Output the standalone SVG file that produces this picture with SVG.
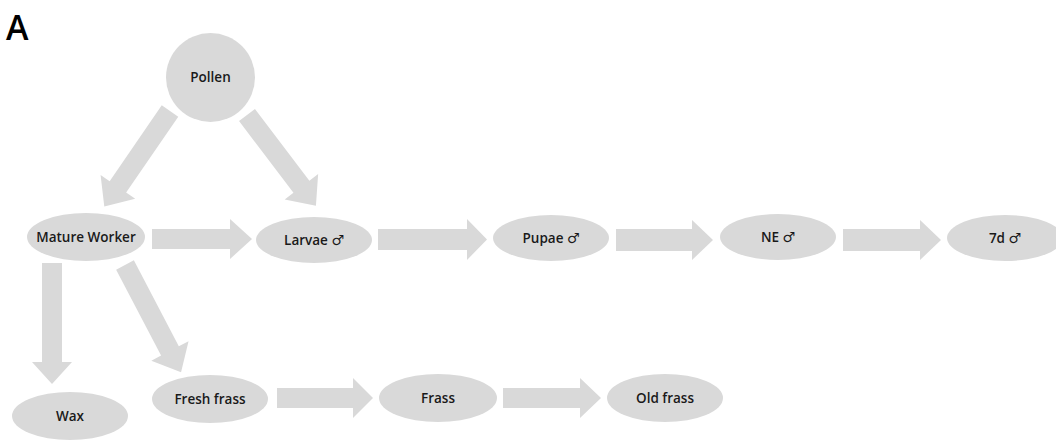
<svg xmlns="http://www.w3.org/2000/svg" width="1056" height="440" viewBox="0 0 1056 440">
<style>
.n{fill:#d9d9d9}
.a{fill:#d9d9d9}
.t{font-family:"Open Sans","Noto Sans",sans-serif;font-weight:600;font-size:13.5px;fill:#1a1a1a;text-anchor:middle}
.m{font-family:"DejaVu Sans",sans-serif;font-weight:normal;font-size:14px}
.lbl{font-family:"Open Sans","Noto Sans",sans-serif;font-weight:600;font-size:34px;fill:#000}
</style>
<rect width="1056" height="440" fill="#fff"/>
<text class="lbl" x="6" y="40">A</text>
<g id="connectors">
<path class="a" transform="translate(170,111) rotate(124.5)" d="M0,-10 L92,-10 L92,-21 L116,0 L92,21 L92,10 L0,10 Z"/>
<path class="a" transform="translate(247,115) rotate(52.8)" d="M0,-10 L90,-10 L90,-21 L114,0 L90,21 L90,10 L0,10 Z"/>
<path class="a" transform="translate(52,263) rotate(90)" d="M0,-10 L99,-10 L99,-20 L121,0 L99,20 L99,10 L0,10 Z"/>
<path class="a" transform="translate(125,265) rotate(62.4)" d="M0,-10 L97,-10 L97,-21 L121,0 L97,21 L97,10 L0,10 Z"/>
<path class="a" d="M152,229 L230,229 L230,219 L252,239 L230,259 L230,249 L152,249 Z"/>
<path class="a" d="M378,229 L467,229 L467,219 L487,239.5 L467,260 L467,250 L378,250 Z"/>
<path class="a" d="M616,229 L692,229 L692,220 L713,240 L692,260 L692,251 L616,251 Z"/>
<path class="a" d="M843,229 L920,229 L920,220 L941,240 L920,260 L920,251 L843,251 Z"/>
<path class="a" d="M277,388 L353,388 L353,378 L373,398 L353,418 L353,408 L277,408 Z"/>
<path class="a" d="M503,388 L580,388 L580,378 L601,398 L580,418 L580,408 L503,408 Z"/>
</g>
<g id="pollen"><circle class="n" cx="210.5" cy="77.5" r="44.5"/><text class="t" x="210.5" y="82">Pollen</text></g>
<g id="mature-worker"><ellipse class="n" cx="86" cy="237" rx="59" ry="24"/><text class="t" x="86" y="242">Mature Worker</text></g>
<g id="larvae"><ellipse class="n" cx="314" cy="240" rx="58" ry="23"/><text class="t" x="314" y="245">Larvae <tspan class="m">♂</tspan></text></g>
<g id="pupae"><ellipse class="n" cx="551" cy="238" rx="58" ry="23"/><text class="t" x="551" y="243">Pupae <tspan class="m">♂</tspan></text></g>
<g id="ne"><ellipse class="n" cx="778" cy="237" rx="58" ry="23"/><text class="t" x="778" y="242">NE <tspan class="m">♂</tspan></text></g>
<g id="d7"><ellipse class="n" cx="1005" cy="238" rx="58" ry="23"/><text class="t" x="1005" y="243">7d <tspan class="m">♂</tspan></text></g>
<g id="wax"><ellipse class="n" cx="70" cy="416" rx="58" ry="24"/><text class="t" x="70" y="421">Wax</text></g>
<g id="fresh-frass"><ellipse class="n" cx="210" cy="399" rx="58" ry="24"/><text class="t" x="210" y="404">Fresh frass</text></g>
<g id="frass"><ellipse class="n" cx="438" cy="398" rx="59" ry="24"/><text class="t" x="438" y="403">Frass</text></g>
<g id="old-frass"><ellipse class="n" cx="665" cy="398" rx="58" ry="24"/><text class="t" x="665" y="403">Old frass</text></g>
</svg>
